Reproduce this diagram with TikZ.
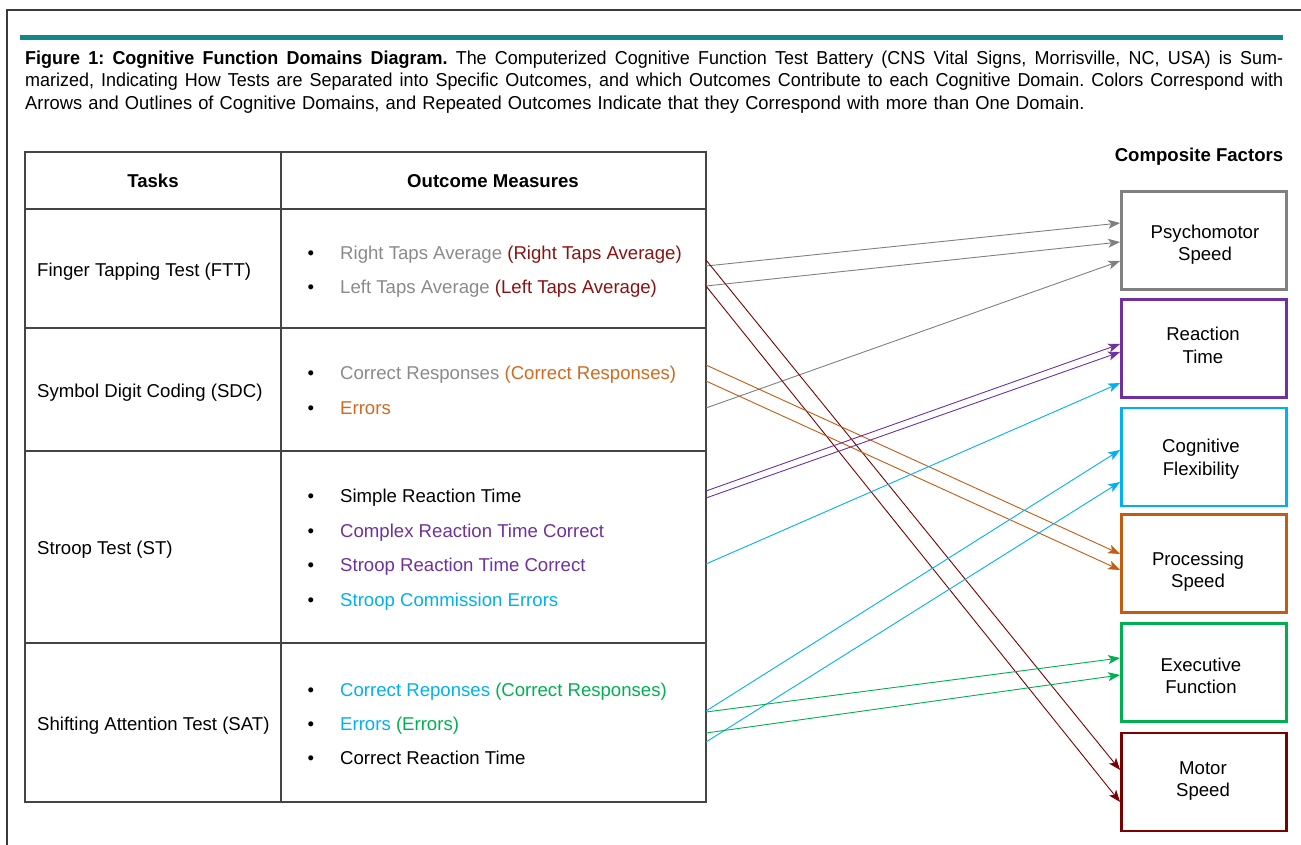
\documentclass[tikz,border=0pt]{standalone}
\usepackage{fontspec}
\usepackage{graphicx}
\setmainfont{Liberation Sans}
\usetikzlibrary{arrows.meta}

\definecolor{framegray}{HTML}{3A3A3A}
\definecolor{tealbar}{HTML}{12888A}
\definecolor{rulegray}{HTML}{444444}
\definecolor{txtgray}{HTML}{8A8A8A}
\definecolor{boxgray}{HTML}{808080}
\definecolor{txtred}{HTML}{8B1212}
\definecolor{deepred}{HTML}{7B0000}
\definecolor{txtorange}{HTML}{D06A20}
\definecolor{deeporange}{HTML}{C55A11}
\definecolor{domainpurple}{HTML}{7030A0}
\definecolor{domaincyan}{HTML}{00B0F0}
\definecolor{domaingreen}{HTML}{00B050}

\newcommand{\bodyfont}{\fontsize{18.6}{22.5}\selectfont}
\newcommand{\capfont}{\fontsize{18.7}{22.5}\selectfont\frenchspacing}
% a caption line, slightly narrowed, spread to the full measure
\newcommand{\capline}[1]{\scalebox{0.96}[1]{\makebox[1310.4pt][s]{\spaceskip=0.278em plus 0.4em minus 0.1em\relax #1}}}

\tikzset{
  tabrule/.style={draw=rulegray, line width=1.2pt},
  cell/.style={anchor=base west, inner sep=0pt, font=\bodyfont},
  head/.style={anchor=base, inner sep=0pt, font=\bodyfont\bfseries},
  dot/.style={anchor=base, inner sep=0pt, font=\bodyfont},
  factor/.style={draw, line width=2.8pt, minimum width=165pt, minimum height=98pt, inner sep=0pt},
  flabel/.style={align=center, inner sep=0pt, font=\bodyfont},
  link/.style={line width=0.9pt, -{Stealth[length=12pt,width=9pt,inset=3pt]}},
}

\begin{document}
\begin{tikzpicture}[x=1pt, y=-1pt]
\useasboundingbox (0,0) rectangle (1301,845);

% page frame and title rule
\draw[framegray, line width=1.5pt] (7,845) -- (7,10) -- (1301,10);
\fill[tealbar] (20,35) rectangle (1283,40);

% caption
\node[anchor=base west, text width=1258pt, align=left, inner sep=0pt, font=\capfont] (caption) at (25,64.5)
{\capline{\textbf{Figure 1: Cognitive Function Domains Diagram.} The Computerized Cognitive Function Test Battery (CNS Vital Signs, Morrisville, NC, USA) is Sum-}\\
\capline{marized, Indicating How Tests are Separated into Specific Outcomes, and which Outcomes Contribute to each Cognitive Domain. Colors Correspond with}\\
\scalebox{0.98}[1]{Arrows and Outlines of Cognitive Domains, and Repeated Outcomes Indicate that they Correspond with more than One Domain.}};

% table grid
\draw[tabrule] (25,152) rectangle (706,802);
\draw[tabrule] (281,152) -- (281,802);
\foreach \yy in {209,328,451,643} \draw[tabrule] (25,\yy) -- (706,\yy);

% table header
\node[head] (hTasks) at (153,187.5) {Tasks};
\node[head] (hOut) at (493,187.5) {Outcome Measures};

% tasks
\node[cell] (tFTT) at (37,276.5) {Finger Tapping Test (FTT)};
\node[cell] (tSDC) at (37,397.5) {Symbol Digit Coding (SDC)};
\node[cell] (tST)  at (37,554.5) {Stroop Test (ST)};
\node[cell] (tSAT) at (37,730.5) {Shifting Attention Test (SAT)};

% outcome measures
\foreach \yy/\nm in {259.5/a,293.5/b,379.5/c,414.5/d,502.5/e,537.5/f,571.5/g,606.5/h,696.5/i,730.5/j,764.5/k}
  \node[dot] (b\nm) at (311,\yy) {•};
\node[cell] (oRTA) at (340,259.5) {\textcolor{txtgray}{Right Taps Average} \textcolor{txtred}{(Right Taps Average)}};
\node[cell] (oLTA) at (340,293.5) {\textcolor{txtgray}{Left Taps Average} \textcolor{txtred}{(Left Taps Average)}};
\node[cell] (oCR)  at (340,379.5) {\textcolor{txtgray}{Correct Responses} \textcolor{txtorange}{(Correct Responses)}};
\node[cell] (oErr) at (340,414.5) {\textcolor{txtorange}{Errors}};
\node[cell] (oSRT) at (340,502.5) {Simple Reaction Time};
\node[cell] (oCRT) at (340,537.5) {\textcolor{domainpurple}{Complex Reaction Time Correct}};
\node[cell] (oSRC) at (340,571.5) {\textcolor{domainpurple}{Stroop Reaction Time Correct}};
\node[cell] (oSCE) at (340,606.5) {\textcolor{domaincyan}{Stroop Commission Errors}};
\node[cell] (oSCR) at (340,696.5) {\textcolor{domaincyan}{Correct Reponses} \textcolor{domaingreen}{(Correct Responses)}};
\node[cell] (oSE)  at (340,730.5) {\textcolor{domaincyan}{Errors} \textcolor{domaingreen}{(Errors)}};
\node[cell] (oSCT) at (340,764.5) {Correct Reaction Time};

% composite factors
\node[head] (hComp) at (1199,161.5) {Composite Factors};
\node[factor, draw=boxgray]      (psy) at (1204,240.7) {};
\node[factor, draw=domainpurple] (rt)  at (1204,348.5) {};
\node[factor, draw=domaincyan]   (cf)  at (1204,457)   {};
\node[factor, draw=deeporange]   (ps)  at (1204,563.5) {};
\node[factor, draw=domaingreen]  (ef)  at (1204,672.5) {};
\node[factor, draw=deepred]      (ms)  at (1204,782)   {};
\node[flabel] (psyT) at (1205,244.7) {Psychomotor\\Speed};
\node[flabel] (rtT)  at (1203,345.5) {Reaction\\Time};
\node[flabel] (cfT)  at (1201,459)   {Cognitive\\Flexibility};
\node[flabel] (psT)  at (1198,571.5) {Processing\\Speed};
\node[flabel] (efT)  at (1201,676)   {Executive\\Function};
\node[flabel] (msT)  at (1203,781)   {Motor\\Speed};

% arrow origins on the right edge of the table
\coordinate (sG1) at (706,266);
\coordinate (sG2) at (706,286);
\coordinate (sG3) at (706,408);
\coordinate (sR1) at (706,260);
\coordinate (sR2) at (706,286);
\coordinate (sO1) at (706,365);
\coordinate (sO2) at (706,381);
\coordinate (sP1) at (706,491);
\coordinate (sP2) at (706,498);
\coordinate (sC1) at (706,564);
\coordinate (sC2) at (706,711);
\coordinate (sC3) at (706,742);
\coordinate (sE1) at (706,712);
\coordinate (sE2) at (706,733);

% connectors
\draw[link, boxgray] (sG1) -- ([yshift=17.7pt]psy.west);
\draw[link, boxgray] (sG2) -- ([yshift=-1.3pt]psy.west);
\draw[link, boxgray] (sG3) -- ([yshift=-20.3pt]psy.west);
\draw[link, deepred] (sR1) -- ([yshift=12pt]ms.west);
\draw[link, deepred] (sR2) -- ([yshift=-20pt]ms.west);
\draw[link, deeporange] (sO1) -- ([yshift=9.5pt]ps.west);
\draw[link, deeporange] (sO2) -- ([yshift=-6.5pt]ps.west);
\draw[link, domainpurple] (sP1) -- ([yshift=4.5pt]rt.west);
\draw[link, domainpurple] (sP2) -- ([yshift=-3.5pt]rt.west);
\draw[link, domaincyan] (sC1) -- ([yshift=-34.5pt]rt.west);
\draw[link, domaincyan] (sC2) -- ([yshift=7pt]cf.west);
\draw[link, domaincyan] (sC3) -- ([yshift=-25pt]cf.west);
\draw[link, domaingreen] (sE1) -- ([yshift=14.5pt]ef.west);
\draw[link, domaingreen] (sE2) -- ([yshift=-2.5pt]ef.west);
\end{tikzpicture}
\end{document}
